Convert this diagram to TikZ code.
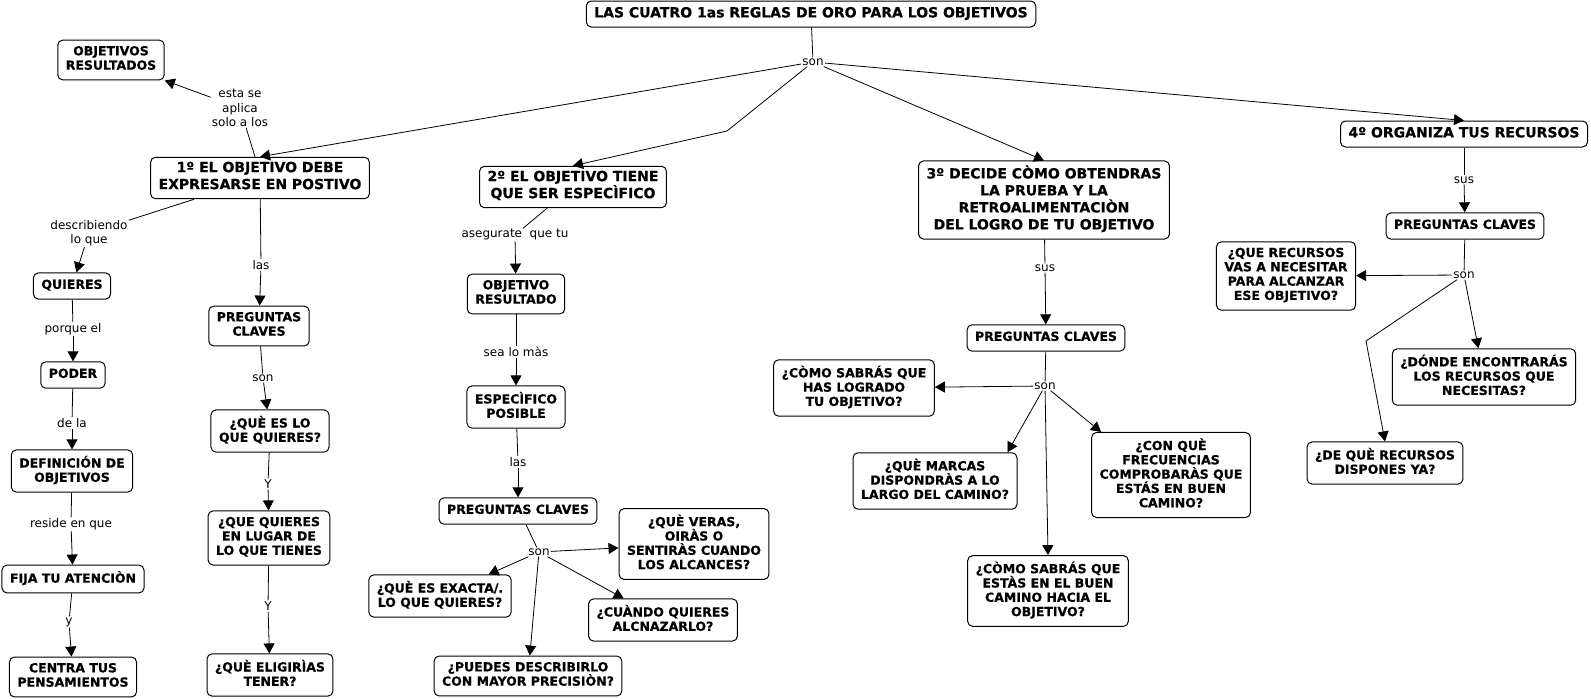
\documentclass[tikz,border=0pt]{standalone}
\usepackage{fontspec}
\setmainfont{DejaVu Sans}[BoldFeatures={FakeBold=0.6}]
\usetikzlibrary{arrows.meta}

\begin{document}
\begin{tikzpicture}
  [
    x=1pt, y=-1pt,
    Concept/.style={draw=black, rounded corners=5pt, line width=1pt, align=center,
      inner xsep=8pt, inner ysep=6pt, font=\fontsize{12.5}{14.3}\selectfont\bfseries,
      execute at begin node=\strut, execute at end node=\strut},
    Big/.style={Concept, inner ysep=4.5pt, font=\fontsize{14}{17}\selectfont\bfseries},
    Link/.style={inner sep=1pt, align=center, font=\fontsize{12}{14.5}\selectfont},
    Line/.style={draw, line width=0.8pt},
    Arrow/.style={Line, -{Triangle[length=10pt, width=11pt]}}
  ]
  \useasboundingbox (0, 0) rectangle (1591, 699);

  % Nodes
  \node[Big] (title) at(811, 14) {LAS CUATRO 1as REGLAS DE ORO PARA LOS OBJETIVOS};
  \node[Link] (son0) at(813, 62) {son};

  \node[Big] (n1) at(260, 178) {1º EL OBJETIVO DEBE\\EXPRESARSE EN POSTIVO};
  \node[Big] (n2) at(573, 187) {2º EL OBJETIVO TIENE\\QUE SER ESPECÌFICO};
  \node[Big] (n3) at(1044, 200) {3º DECIDE CÒMO OBTENDRAS\\LA PRUEBA Y LA\\RETROALIMENTACIÒN\\DEL LOGRO DE TU OBJETIVO};
  \node[Big] (n4) at(1464, 134) {4º ORGANIZA TUS RECURSOS};

  \node[Concept] (objres) at(111, 60) {OBJETIVOS\\RESULTADOS};
  \node[Link] (aplica) at(240, 108) {esta se\\aplica\\solo a los};

  \node[Link] (describ) at(89, 233) {describiendo\\lo que};
  \node[Concept] (quieres) at(72, 286) {QUIERES};
  \node[Link] (porque) at(73, 329) {porque el};
  \node[Concept] (poder) at(73, 375) {PODER};
  \node[Link] (dela) at(72, 423) {de la};
  \node[Concept] (defin) at(72, 471) {DEFINICIÓN DE\\OBJETIVOS};
  \node[Link] (reside) at(71, 524) {reside en que};
  \node[Concept] (fija) at(73, 579) {FIJA TU ATENCIÒN};
  \node[Link] (ylab) at(69, 622) {y};
  \node[Concept] (centra) at(73, 677) {CENTRA TUS\\PENSAMIENTOS};

  \node[Link] (las1) at(261, 265) {las};
  \node[Concept] (preg2) at(259, 326) {PREGUNTAS\\CLAVES};
  \node[Link] (son2) at(263, 378) {son};
  \node[Concept] (quees) at(270, 431) {¿QUÈ ES LO\\QUE QUIERES?};
  \node[Link] (y1) at(268, 484) {Y};
  \node[Concept] (queq) at(269, 538) {¿QUE QUIERES\\EN LUGAR DE\\LO QUE TIENES};
  \node[Link] (y2) at(268, 606) {Y};
  \node[Concept] (eligir) at(270, 675) {¿QUÈ ELIGIRÌAS\\TENER?};

  \node[Link] (asegur) at(515, 235) {asegurate\ \ que tu};
  \node[Concept] (objres2) at(516, 294) {OBJETIVO\\RESULTADO};
  \node[Link] (sealo) at(516, 352) {sea lo màs};
  \node[Concept] (especif) at(516, 407) {ESPECÌFICO\\POSIBLE};
  \node[Link] (las2) at(518, 462) {las};
  \node[Concept] (preg3) at(518, 511) {PREGUNTAS CLAVES};
  \node[Link] (son3) at(539, 552) {son};
  \node[Concept] (veras) at(694, 544) {¿QUÈ VERAS,\\OIRÀS O\\SENTIRÀS CUANDO\\LOS ALCANCES?};
  \node[Concept] (exacta) at(440, 596) {¿QUÈ ES EXACTA/.\\LO QUE QUIERES?};
  \node[Concept] (cuando) at(663, 620) {¿CUÀNDO QUIERES\\ALCNAZARLO?};
  \node[Concept] (puedes) at(528, 676) {¿PUEDES DESCRIBIRLO\\CON MAYOR PRECISIÒN?};

  \node[Link] (sus3) at(1045, 268) {sus};
  \node[Concept] (preg4) at(1046, 338) {PREGUNTAS CLAVES};
  \node[Link] (son4) at(1045, 386) {son};
  \node[Concept] (comolog) at(854, 388) {¿CÒMO SABRÁS QUE\\HAS LOGRADO\\TU OBJETIVO?};
  \node[Concept] (marcas) at(935, 481) {¿QUÈ MARCAS\\DISPONDRÀS A LO\\LARGO DEL CAMINO?};
  \node[Concept] (conque) at(1171, 475) {¿CON QUÈ\\FRECUENCIAS\\COMPROBARÀS QUE\\ESTÁS EN BUEN\\CAMINO?};
  \node[Concept] (comoest) at(1048, 591) {¿CÒMO SABRÁS QUE\\ESTÀS EN EL BUEN\\CAMINO HACIA EL\\OBJETIVO?};

  \node[Link] (sus4) at(1464, 180) {sus};
  \node[Concept] (preg5) at(1465, 226) {PREGUNTAS CLAVES};
  \node[Link] (son5) at(1464, 275) {son};
  \node[Concept] (querec) at(1286, 276) {¿QUE RECURSOS\\VAS A NECESITAR\\PARA ALCANZAR\\ESE OBJETIVO?};
  \node[Concept] (donde) at(1484, 377) {¿DÓNDE ENCONTRARÁS\\LOS RECURSOS QUE\\NECESITAS?};
  \node[Concept] (deque) at(1385, 463) {¿DE QUÈ RECURSOS\\DISPONES YA?};

  \coordinate (bend2) at(727, 131);
  \coordinate (bend5) at(1366, 341);

  % Lines
  \draw[Line] (title) -- (son0);
  \draw[Arrow] (son0) -- (n1.north);
  \draw[Arrow] (son0) -- (bend2) -- (n2.north);
  \draw[Arrow] (son0) -- (n3.north);
  \draw[Arrow] (son0) -- (n4.north);

  \draw[Line] ([xshift=-5pt]n1.north) -- (aplica);
  \draw[Arrow] (aplica) -- (objres.south east);

  \draw[Line] ([xshift=44pt]n1.south west) -- (describ);
  \draw[Arrow] (describ) -- (quieres);
  \draw[Line] (quieres) -- (porque);
  \draw[Arrow] (porque) -- (poder);
  \draw[Line] (poder) -- (dela);
  \draw[Arrow] (dela) -- (defin);
  \draw[Line] (defin) -- (reside);
  \draw[Arrow] (reside) -- (fija);
  \draw[Line] (fija) -- (ylab);
  \draw[Arrow] (ylab) -- (centra);

  \draw[Line] (n1) -- (las1);
  \draw[Arrow] (las1) -- (preg2);
  \draw[Line] (preg2) -- (son2);
  \draw[Arrow] (son2) -- (quees);
  \draw[Line] (quees) -- (y1);
  \draw[Arrow] (y1) -- (queq);
  \draw[Line] (queq) -- (y2);
  \draw[Arrow] (y2) -- (eligir);

  \draw[Line] ([xshift=-26pt]n2.south) -- (asegur);
  \draw[Arrow] (asegur) -- (objres2);
  \draw[Line] (objres2) -- (sealo);
  \draw[Arrow] (sealo) -- (especif);
  \draw[Line] (especif) -- (las2);
  \draw[Arrow] (las2) -- (preg3);
  \draw[Line] ([xshift=8pt]preg3.south) -- (son3);
  \draw[Arrow] (son3) -- (veras);
  \draw[Arrow] (son3) -- (exacta);
  \draw[Arrow] (son3) -- (cuando);
  \draw[Arrow] (son3) -- (puedes);

  \draw[Line] (n3) -- (sus3);
  \draw[Arrow] (sus3) -- (preg4);
  \draw[Line] (preg4) -- (son4);
  \draw[Arrow] (son4) -- (comolog);
  \draw[Arrow] (son4) -- ([xshift=-10pt]marcas.north east);
  \draw[Arrow] (son4) -- ([xshift=10pt]conque.north west);
  \draw[Arrow] (son4) -- (comoest.north);

  \draw[Line] (n4) -- (sus4);
  \draw[Arrow] (sus4) -- (preg5);
  \draw[Line] (preg5) -- (son5);
  \draw[Arrow] (son5) -- (querec);
  \draw[Arrow] (son5) -- (donde);
  \draw[Arrow] (son5) -- (bend5) -- (deque.north);

\end{tikzpicture}
\end{document}
